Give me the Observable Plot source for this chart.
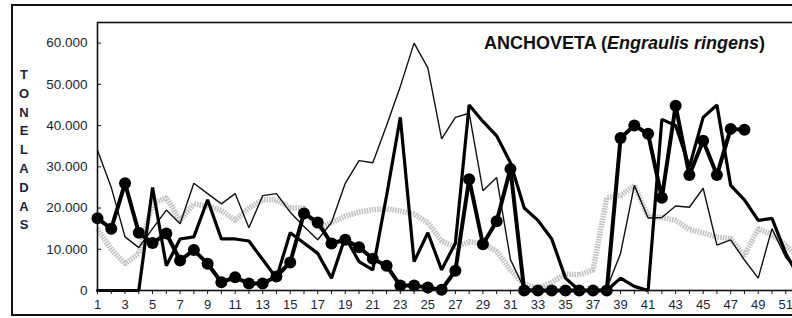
<!DOCTYPE html>
<html><head><meta charset="utf-8">
<script src="https://cdn.jsdelivr.net/npm/d3@7"></script>
<script src="https://cdn.jsdelivr.net/npm/@observablehq/plot@0.6"></script>
<style>
html,body{margin:0;padding:0;background:#fff;overflow:hidden;}
#wrap{position:relative;width:792px;height:318px;overflow:hidden;font-family:"Liberation Sans",Arial,sans-serif;}
#chart{position:absolute;left:0;top:0;}
#border{position:absolute;left:11px;top:4px;width:820px;height:312px;border:2.5px solid #111;box-sizing:border-box;pointer-events:none;z-index:2;}
#title{position:absolute;left:484px;top:33px;font-weight:bold;font-size:18px;color:#111;white-space:nowrap;z-index:3;}
#ylab{position:absolute;left:16px;top:66px;width:16px;text-align:center;font-weight:bold;font-size:13px;line-height:18.8px;color:#1a1f3c;z-index:3;}
</style></head>
<body>
<div id="wrap">
  <div id="chart"></div>
  <div id="border"></div>
  <div id="title">ANCHOVETA (<i>Engraulis ringens</i>)</div>
  <div id="ylab"></div>
</div>
<script>
const weeks = d3.range(1, 53);
const yTicks = [0, 10000, 20000, 30000, 40000, 50000, 60000];
const yTitle = "TONELADAS";
// series values (toneladas) by week
const seriesDots = [17500,15000,26000,14000,11500,13800,7300,9800,6500,2000,3200,1700,1700,3400,6800,18700,16500,11400,12300,10500,7700,6000,1200,1200,700,200,4800,27000,11200,16800,29500,0,0,0,0,0,0,0,37000,40000,38000,22500,44800,28000,36300,28000,39200,39000];
const seriesThick = [0,0,0,0,25000,6000,12500,13000,22000,12500,12500,12000,7500,3000,14000,11500,9000,3000,13000,7000,5000,23000,42000,7000,14000,5000,11500,45000,41000,37500,31000,20000,17000,12500,3000,0,0,0,3000,1000,0,41500,40000,30000,42000,45000,25500,22000,17000,17500,9000,3000];
const seriesThin = [34000,25000,13000,10400,15000,19500,16200,26000,23500,21000,23500,15200,23000,23500,19000,15500,12300,16500,26000,31500,31000,40000,49500,60000,54000,36800,42000,43000,24200,27400,7500,500,0,0,0,0,0,500,9000,25500,17600,17700,20500,20200,24800,11000,12300,7400,3000,15000,8000,4000];
const seriesGray = [15000,10000,6500,9000,21000,22500,17000,21000,20500,19400,17000,20000,22000,22000,20000,20000,15000,16500,18000,19000,19600,19800,19300,18500,16500,12000,10500,11800,11500,9500,5000,1500,500,2000,4000,3800,5000,22500,23000,25500,18000,17700,17000,14800,14000,13000,12600,8500,15000,13500,11000,8000];

const toRows = arr => arr.map((v, i) => ({week: weeks[i], value: v}));
const dots = toRows(seriesDots), thick = toRows(seriesThick), thin = toRows(seriesThin), gray = toRows(seriesGray);
const fmt = d => d3.format(",")(d).replace(/,/g, ".");

document.getElementById("ylab").innerHTML = yTitle.split("").map(c => `<div>${c}</div>`).join("");

const chart = Plot.plot({
  width: 792, height: 318,
  marginLeft: 97, marginRight: -7, marginTop: 22, marginBottom: 28,
  style: {background: "transparent", fontFamily: "Liberation Sans, Arial, sans-serif", overflow: "hidden"},
  x: {domain: [1, 52], label: null},
  y: {domain: [0, 65000], label: null},
  marks: [
    Plot.line(gray, {x: "week", y: "value", stroke: "#c2c2c2", strokeWidth: 5.5, strokeDasharray: "1.6,1", strokeLinecap: "butt", strokeLinejoin: "miter"}),
    Plot.line(thin, {x: "week", y: "value", stroke: "#111", strokeWidth: 1.4, strokeLinejoin: "miter"}),
    Plot.line(thick, {x: "week", y: "value", stroke: "#000", strokeWidth: 3.2, strokeLinejoin: "miter"}),
    Plot.line(dots, {x: "week", y: "value", stroke: "#000", strokeWidth: 4}),
    Plot.dot(dots, {x: "week", y: "value", r: 6, fill: "#000"}),
    Plot.frame({stroke: "#111", strokeWidth: 1.6}),
    Plot.axisY({ticks: yTicks, tickFormat: fmt, tickSize: -4, tickPadding: 14, fontSize: 13.5, fill: "#1a1f3c", stroke: "#111", label: null}),
    Plot.axisX({ticks: weeks, tickFormat: d => d % 2 ? String(d) : "", tickSize: 4, tickPadding: 5, fontSize: 13, fill: "#1a1f3c", stroke: "#111", label: null})
  ]
});
document.getElementById("chart").appendChild(chart);
</script>
</body></html>
